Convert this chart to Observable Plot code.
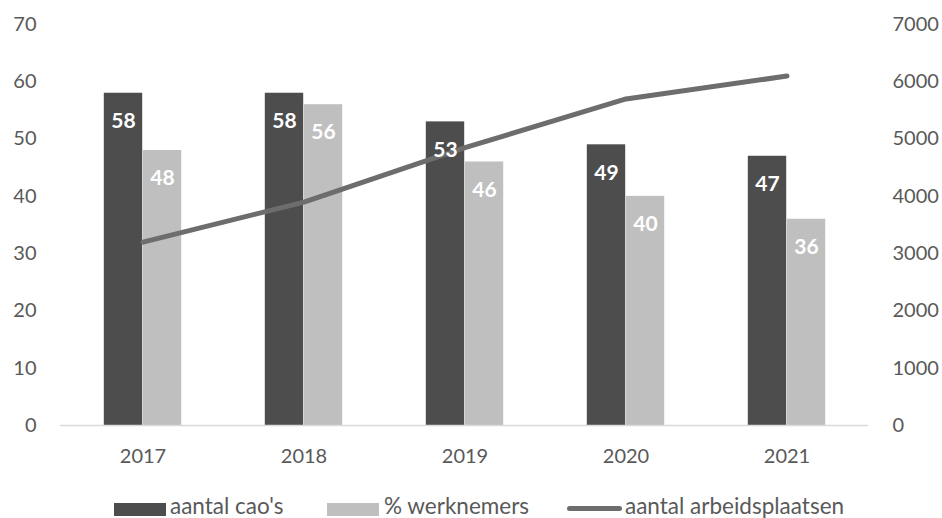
<!DOCTYPE html>
<html>
<head>
<meta charset="utf-8">
<script src="https://cdn.jsdelivr.net/npm/d3@7"></script>
<script src="https://cdn.jsdelivr.net/npm/@observablehq/plot@0.6"></script>
<style>
  body { margin: 0; background: #fff; font-family: Lato, "Open Sans", sans-serif; }
  #wrap { width: 942px; }
  #legend { position: relative; width: 942px; height: 40px; color: #595959; font-size: 22.5px; }
  #legend .sw { position: absolute; top: 25px; height: 13px; }
  #legend .ln { position: absolute; top: 28px; height: 5px; border-radius: 3px; }
  #legend .lb { position: absolute; top: 16px; line-height: 24px; white-space: nowrap; }
</style>
</head>
<body>
<div id="wrap">
  <div id="chart"></div>
  <div id="legend"></div>
</div>
<script>
const years = ["2017", "2018", "2019", "2020", "2021"];
const caos = [58, 58, 53, 49, 47];
const werknemers = [48, 56, 46, 40, 36];
const arbeidsplaatsen = [3200, 3900, 4850, 5700, 6100];
const leftTicks = [0, 10, 20, 30, 40, 50, 60, 70];
const rightTicks = [0, 1000, 2000, 3000, 4000, 5000, 6000, 7000];
const seriesNames = ["aantal cao's", "% werknemers", "aantal arbeidsplaatsen"];
const seriesColors = ["#4d4d4d", "#bfbfbf", "#6d6d6d"];

const rows = years.map((year, i) => ({
  year,
  caos: caos[i],
  werk: werknemers[i],
  arb: arbeidsplaatsen[i]
}));

const ratio = 100; // right axis (0-7000) mapped onto left axis (0-70)
const bandHalf = (942 - 60 - 74) / years.length / 2;
const barW = 39;

const chart = Plot.plot({
  width: 942,
  height: 478,
  marginTop: 24,
  marginBottom: 53,
  marginLeft: 60,
  marginRight: 74,
  style: { fontFamily: "Lato, 'Open Sans', sans-serif", fontSize: "20px", color: "#595959", background: "#fff" },
  x: { type: "band", domain: years, paddingInner: 0, paddingOuter: 0, axis: null },
  y: { domain: [0, 70], axis: null },
  marks: [
    Plot.barY(rows, { x: "year", y: "caos", fill: seriesColors[0], insetLeft: bandHalf - barW, insetRight: bandHalf }),
    Plot.barY(rows, { x: "year", y: "werk", fill: seriesColors[1], insetLeft: bandHalf, insetRight: bandHalf - barW }),
    Plot.ruleY([0], { stroke: "#d9d9d9", strokeWidth: 1.5 }),
    Plot.line(rows, { x: "year", y: d => d.arb / ratio, stroke: seriesColors[2], strokeWidth: 5, strokeLinecap: "round", strokeLinejoin: "round" }),
    Plot.text(rows, { x: "year", y: "caos", text: d => String(d.caos), dx: -barW / 2, dy: 28, fill: "white", fontWeight: "bold", fontSize: 21 }),
    Plot.text(rows, { x: "year", y: "werk", text: d => String(d.werk), dx: barW / 2, dy: 28, fill: "white", fontWeight: "bold", fontSize: 21 }),
    Plot.axisX({ tickSize: 0, tickPadding: 23, label: null }),
    Plot.axisY(leftTicks, { anchor: "left", tickSize: 0, tickPadding: 24, label: null }),
    Plot.axisY(rightTicks.map(d => d / ratio), { anchor: "right", tickSize: 0, tickPadding: 24, label: null, tickFormat: d => String(Math.round(d * ratio)) })
  ]
});
document.getElementById("chart").appendChild(chart);

// legend
const legend = document.getElementById("legend");
const items = [
  { kind: "sw", x: 114, w: 52, tx: 170 },
  { kind: "sw", x: 327, w: 52, tx: 384 },
  { kind: "ln", x: 567, w: 55, tx: 625 }
];
items.forEach((it, i) => {
  const s = document.createElement("div");
  s.className = it.kind;
  s.style.left = it.x + "px";
  s.style.width = it.w + "px";
  s.style.background = seriesColors[i];
  legend.appendChild(s);
  const t = document.createElement("div");
  t.className = "lb";
  t.style.left = it.tx + "px";
  t.textContent = seriesNames[i];
  legend.appendChild(t);
});
</script>
</body>
</html>
